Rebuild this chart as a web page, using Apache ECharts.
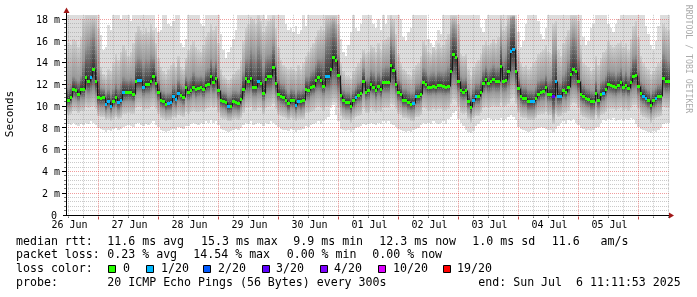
<!DOCTYPE html>
<html><head><meta charset="utf-8">
<script src="https://cdn.jsdelivr.net/npm/echarts@6/dist/echarts.min.js"></script>
<style>html,body{margin:0;padding:0;background:#fff}#c{width:697px;height:297px}</style>
</head><body><div id="c"></div>
<script>
// ---- data: hourly steps, 26 Jun .. 06 Jul 2025 ----
const median = [10.6,10.8,11.6,11.45,11.15,11.6,11.6,12.7,12.3,12.7,
 13.45,12.3,10.8,10.75,10.8,10.2,10.5,10.05,10.5,10.8,
 10.4,10.6,11.3,11.3,11.35,11.3,11.1,12.3,12.4,12.4,
 11.75,12.0,12.05,12.35,12.8,12.1,11.35,10.6,10.45,10.2,
 10.3,10.35,10.95,10.65,11.25,11.0,10.85,11.75,11.3,11.5,
 11.8,11.55,11.65,11.75,11.55,11.95,12.05,12.75,12.2,12.6,
 11.5,10.6,10.5,10.4,10.0,10.05,10.45,10.4,10.3,10.65,
 11.55,12.6,12.3,12.6,11.8,11.75,12.3,12.15,11.25,12.5,
 12.75,12.8,13.6,12.1,11.15,10.95,10.85,10.6,10.25,10.6,
 10.55,10.15,10.5,10.45,10.55,11.55,11.5,11.75,11.9,12.4,
 12.65,12.4,11.85,12.8,12.75,13.45,14.5,14.25,12.9,11.05,
 10.55,10.35,10.35,10.0,10.55,10.85,11.05,11.2,12.3,11.35,
 11.5,12.05,11.8,11.5,11.85,11.55,12.2,12.2,12.2,13.8,
 13.35,12.05,11.35,11.1,10.6,10.6,10.4,10.2,10.3,10.9,
 10.9,11.15,12.2,12.05,11.75,11.8,11.85,11.75,11.95,11.95,
 11.85,11.8,11.85,13.2,14.8,14.5,12.3,11.5,11.35,11.45,
 10.45,9.9,10.6,10.95,10.9,11.35,12.1,12.5,12.1,12.3,
 12.5,12.3,12.3,13.65,12.3,12.4,13.25,15.1,15.3,13.25,
 11.65,10.95,10.75,10.75,10.45,10.45,10.45,10.75,11.15,11.35,
 11.4,11.75,11.15,11.15,10.95,12.3,10.95,10.95,11.45,11.35,
 11.75,12.95,13.4,13.2,12.3,11.15,10.95,10.75,10.65,10.45,
 10.45,11.25,10.55,11.1,11.25,11.6,12.05,11.95,11.9,11.75,
 11.95,12.2,11.75,11.95,11.65,12.25,12.8,12.9,11.9,11.2,
 10.95,10.75,10.55,10.1,10.55,10.75,10.95,10.95,12.6,12.3,
 12.3];
// average lost pings (of 20) per step
const lossPings = [0,0,0,0,0,0,0,0,0,0.2,
 0,0,0,0,0,0.3,0.2,0.3,0,0,
 0.2,0.2,0.1,0,0,0,0,0,0.3,0.2,
 0.2,0,0,0,0,0,0,0,0,0,
 0.2,0.3,0.2,0.2,0.1,0,0,0,0,0,
 0,0,0,0,0,0,0,0,0,0,
 0,0,0,0,0.3,0,0,0,0,0,
 0,0,0,0,0,0,0.2,0,0,0,
 0,0,0,0,0,0,0,0,0,0,
 0,0.2,0.2,0,0,0,0,0,0,0,
 0,0,0,0.3,0.2,0,0,0,0,0,
 0,0,0,0,0,0.2,0,0,0,0,
 0,0,0,0,0,0,0,0,0,0,
 0,0,0,0,0,0,0,0,0.3,0.2,
 0,0,0,0,0,0,0,0,0,0,
 0,0,0,0,0,0,0,0,0,0,
 0,0,0.2,0.2,0,0,0,0,0,0,
 0,0,0,0,0,0,0,0.3,0.3,0,
 0,0,0,0,0,0.2,0.2,0,0,0,
 0,0,0,0,2.9,0.3,0.2,0.2,0,0,
 0,0,0,0,0,0,0,0,0,0,
 0,0,0,0,0.2,0,0,0,0,0,
 0,0,0,0,0,0,0,0,0,0,
 0.2,0.2,0,0,0,0.2,0,0,0,0,
 0];
// smoke: spread of the 20 pings per step (ms)
const pMin = [8.4,8.3,8.5,8.3,8.2,8.4,8.3,8.5,8.4,8.6,
 8.5,8.3,8.0,7.9,7.8,7.6,7.8,7.7,7.9,8.0,
 7.8,7.9,8.1,8.2,8.3,8.2,8.1,8.4,8.5,8.3,
 8.2,8.4,8.3,8.5,8.6,8.3,8.1,7.8,7.7,7.6,
 7.7,7.8,7.9,7.8,8.1,8.0,7.9,8.2,8.2,8.4,
 8.5,8.4,8.3,8.5,8.4,8.6,8.5,8.7,8.5,8.6,
 8.3,7.9,7.8,7.7,7.6,7.7,7.8,7.9,7.8,8.0,
 8.3,8.5,8.4,8.6,8.3,8.4,8.5,8.4,8.2,8.5,
 8.4,8.6,8.5,8.3,8.1,7.9,7.8,7.8,7.7,7.9,
 7.8,7.6,7.8,7.8,7.9,8.2,8.1,8.3,8.4,8.5,
 8.6,8.4,8.6,8.8,9.0,9.8,10.1,9.2,8.6,7.9,
 7.8,7.7,7.8,7.6,7.8,8.0,8.1,8.2,8.4,8.3,
 8.4,8.5,8.4,8.3,8.5,8.4,8.6,8.5,8.6,8.4,
 8.3,8.1,7.9,7.8,7.7,7.6,7.7,7.6,7.8,7.9,
 8.0,8.3,8.5,8.4,8.5,8.4,8.6,8.5,8.4,8.5,
 8.6,8.4,8.8,9.0,9.4,9.6,8.8,8.5,8.2,7.8,
 7.6,7.5,7.7,8.2,8.4,8.6,8.8,8.7,8.9,8.8,
 8.6,8.8,8.7,8.9,8.6,8.8,9.0,9.2,9.0,8.7,
 8.1,7.9,7.8,7.7,7.6,7.7,7.8,7.9,8.0,8.1,
 8.0,7.9,7.8,7.8,7.6,7.9,8.2,8.5,8.6,8.4,
 8.7,8.6,8.8,8.5,8.3,8.0,7.9,7.7,7.8,7.7,
 7.8,8.0,8.1,8.5,8.7,8.6,8.8,8.7,8.9,8.6,
 8.7,8.8,8.6,8.8,8.7,8.9,8.8,8.4,8.1,7.9,
 7.8,7.7,7.6,7.5,7.7,7.6,7.8,8.0,8.4,8.5,
 8.5];
const p10 = [9.2,9.3,9.6,9.6,9.4,9.6,9.6,9.9,9.8,9.9,
 10.0,9.7,9.1,9.0,9.0,8.7,8.8,8.6,8.8,9.0,
 8.8,8.9,9.3,9.3,9.4,9.3,9.3,9.8,9.9,9.9,
 9.6,9.7,9.7,9.9,10.0,9.7,9.3,8.9,8.8,8.6,
 8.7,8.7,9.0,8.9,9.2,9.1,9.0,9.5,9.3,9.5,
 9.6,9.5,9.5,9.6,9.5,9.7,9.8,10.0,9.8,9.9,
 9.4,8.9,8.8,8.8,8.6,8.6,8.8,8.8,8.7,8.9,
 9.4,9.8,9.8,9.9,9.6,9.6,9.8,9.8,9.3,9.8,
 9.9,10.0,10.2,9.7,9.2,9.1,9.0,8.9,8.7,8.9,
 8.8,8.6,8.8,8.8,8.8,9.4,9.4,9.5,9.6,9.8,
 9.9,9.8,9.6,9.9,9.9,10.1,10.4,10.3,9.8,9.1,
 8.8,8.7,8.7,8.5,8.8,9.0,9.1,9.2,9.7,9.4,
 9.4,9.7,9.6,9.4,9.6,9.5,9.8,9.8,9.8,10.2,
 10.1,9.7,9.3,9.2,8.9,8.9,8.8,8.6,8.6,9.0,
 9.0,9.2,9.8,9.7,9.6,9.6,9.7,9.6,9.7,9.7,
 9.6,9.6,9.7,10.2,10.6,10.5,9.9,9.4,9.3,9.4,
 8.8,8.5,8.9,9.1,9.1,9.4,9.8,9.9,9.8,9.9,
 10.0,9.9,9.9,10.3,9.9,10.0,10.2,10.7,10.8,10.2,
 9.4,9.0,8.9,8.9,8.7,8.7,8.7,8.9,9.2,9.3,
 9.3,9.5,9.2,9.2,8.4,9.3,9.0,9.1,9.4,9.4,
 9.6,10.1,10.3,10.2,9.8,9.2,9.0,8.9,8.8,8.7,
 8.7,9.2,8.8,9.2,9.3,9.5,9.7,9.7,9.7,9.6,
 9.7,9.8,9.6,9.7,9.6,9.8,10.1,10.1,9.7,9.2,
 9.0,8.9,8.8,8.5,8.8,8.9,9.0,9.1,9.9,9.8,
 9.8];
const p25 = [9.9,10.1,10.7,10.6,10.4,10.7,10.6,11.2,11.0,11.2,
 11.4,10.9,10.0,9.9,9.9,9.5,9.7,9.4,9.7,9.9,
 9.6,9.8,10.3,10.4,10.4,10.4,10.3,11.0,11.2,11.2,
 10.8,11.0,11.0,11.2,11.4,11.0,10.4,9.8,9.7,9.5,
 9.6,9.6,10.0,9.8,10.3,10.2,10.0,10.8,10.5,10.7,
 10.9,10.7,10.8,10.9,10.7,11.0,11.1,11.4,11.1,11.3,
 10.6,9.8,9.7,9.6,9.3,9.3,9.6,9.6,9.5,9.8,
 10.5,11.0,11.0,11.2,10.8,10.8,11.0,11.0,10.4,11.0,
 11.2,11.3,11.6,10.9,10.3,10.1,10.0,9.8,9.5,9.8,
 9.7,9.4,9.7,9.6,9.7,10.6,10.5,10.8,10.9,11.2,
 11.3,11.2,10.9,11.3,11.3,11.5,11.8,11.7,11.2,10.2,
 9.7,9.6,9.6,9.3,9.7,10.0,10.2,10.3,11.0,10.5,
 10.6,11.0,10.9,10.6,10.9,10.7,11.1,11.1,11.1,11.6,
 11.5,11.0,10.4,10.2,9.8,9.8,9.6,9.5,9.5,10.0,
 10.1,10.3,11.1,11.0,10.9,10.9,11.0,10.9,11.0,11.0,
 10.9,10.9,11.0,11.6,12.0,11.9,11.2,10.6,10.5,10.6,
 9.7,9.2,9.8,10.1,10.1,10.5,11.1,11.3,11.1,11.2,
 11.3,11.2,11.2,11.7,11.2,11.3,11.6,12.2,12.4,11.6,
 10.6,10.1,9.9,9.9,9.6,9.6,9.6,9.9,10.3,10.5,
 10.5,10.8,10.3,10.3,9.4,10.2,10.0,10.1,10.6,10.5,
 10.8,11.4,11.6,11.5,11.1,10.3,10.1,9.9,9.8,9.6,
 9.6,10.3,9.7,10.2,10.4,10.7,11.0,11.0,10.9,10.8,
 11.0,11.1,10.8,11.0,10.8,11.2,11.4,11.5,10.9,10.3,
 10.1,9.9,9.7,9.3,9.7,9.9,10.1,10.1,11.2,11.1,
 11.1];
const p75 = [11.8,12.0,12.8,12.6,12.4,12.9,14.2,15.4,15.8,16.4,
 16.8,15.6,13.4,11.8,11.7,11.3,11.6,11.2,11.7,12.1,
 11.8,12.2,12.8,12.6,12.5,12.7,12.6,14.2,14.6,14.4,
 14.0,14.4,14.2,14.8,14.6,13.4,12.4,11.6,11.4,11.2,
 11.3,11.4,12.0,11.8,12.5,12.0,11.9,12.8,12.6,12.8,
 13.2,12.9,12.8,12.9,12.8,13.4,13.6,14.4,13.8,14.2,
 12.8,11.6,11.4,11.3,11.0,11.1,11.5,11.5,11.4,11.9,
 13.2,14.4,14.6,15.4,15.0,14.6,15.6,15.0,13.8,14.6,
 14.8,15.0,15.8,14.2,12.6,12.1,12.0,11.7,11.3,11.7,
 11.6,11.2,11.6,11.5,11.7,12.8,12.8,13.2,13.4,14.0,
 14.4,14.4,14.6,16.4,16.8,17.2,17.6,17.0,14.8,12.2,
 11.6,11.4,11.4,11.1,11.6,11.9,12.2,12.4,13.6,12.6,
 12.8,13.4,13.2,12.8,13.2,12.9,13.6,13.8,13.8,16.2,
 15.6,13.6,12.6,12.2,11.7,11.7,11.5,11.3,11.4,12.0,
 12.1,12.4,13.6,13.4,13.0,13.1,13.2,13.0,13.3,13.2,
 13.2,13.4,13.8,16.6,17.4,17.0,14.4,12.8,12.6,12.7,
 11.6,11.0,11.8,12.1,12.1,12.6,13.4,13.8,13.4,13.6,
 13.9,13.6,13.7,16.0,14.4,14.8,16.4,18.0,18.2,15.8,
 12.8,12.1,11.9,11.9,11.6,11.6,11.6,11.9,12.4,12.6,
 12.6,13.0,12.5,12.6,15.0,15.2,12.4,12.2,13.0,13.4,
 14.2,16.0,16.6,16.2,14.6,12.6,12.0,11.8,11.7,11.5,
 11.5,12.4,11.7,12.3,12.5,12.9,13.4,13.2,13.2,13.0,
 13.2,13.6,13.0,13.3,12.9,13.6,14.6,14.8,13.4,12.3,
 12.0,11.8,11.6,11.2,11.6,11.8,12.0,12.1,15.0,14.6,
 14.2];
const p90 = [15.8,15.6,16.2,16.0,15.4,16.4,18.0,18.4,19,19,
 19,18.6,17.2,13.6,13.0,12.8,13.4,13.2,14.0,14.8,
 14.2,15.0,15.6,15.2,14.6,15.0,15.8,16.8,17.4,17.0,
 16.6,17.2,16.8,17.6,17.0,15.8,14.4,13.6,13.2,13.0,
 13.4,13.8,14.0,13.6,14.6,13.6,13.4,14.4,15.2,15.6,
 16.0,15.4,15.2,15.0,15.6,16.4,16.8,17.6,17.0,17.4,
 15.8,13.4,12.8,12.6,12.4,12.6,13.0,13.2,13.4,14.2,
 16.0,17.2,17.6,18.2,18.0,17.6,18.4,17.8,16.8,17.4,
 17.8,18.0,18.4,17.2,15.4,14.2,13.8,13.6,13.4,13.6,
 13.4,13.2,13.8,13.4,14.0,14.6,15.0,15.4,15.8,16.4,
 17.0,17.4,17.0,19,19,19,19,19,17.6,14.0,
 13.2,12.8,12.8,12.6,13.2,13.6,14.0,14.4,15.2,14.8,
 15.0,15.6,15.4,15.0,15.8,15.2,16.0,16.2,16.4,18.4,
 18.0,16.6,14.8,14.0,13.4,13.2,13.0,12.8,13.4,13.8,
 14.0,14.6,16.0,15.6,15.0,14.8,15.4,15.2,15.8,15.4,
 15.6,16.2,16.6,19,19,19,17.6,14.8,14.6,14.8,
 13.4,12.8,13.6,14.0,14.2,14.8,15.6,16.0,15.6,15.8,
 16.2,15.8,16.4,18.6,17.0,17.4,19,19,19,18.0,
 15.2,14.0,13.6,13.8,13.4,13.6,14.0,14.2,14.8,15.0,
 15.2,15.6,15.0,14.8,17.6,17.8,15.2,14.6,15.8,16.4,
 17.0,19,19,19,17.8,15.6,14.0,13.8,13.6,13.2,
 13.4,14.6,13.8,14.4,15.0,15.2,16.0,15.6,15.4,15.6,
 15.8,16.0,15.4,15.8,15.2,16.2,17.4,17.8,16.4,14.6,
 14.0,13.6,13.4,13.0,13.2,13.6,14.0,14.2,17.6,17.2,
 17.0];
const pMax = [19,19,19,19,19,19,19,19,19,19,
 19,19,19,16.5,15.2,15.4,17.5,17.0,19,19,
 19,18.0,19,19,19,17.8,19,19,19,19,
 19,19,19,19,19,17.2,16.8,17.0,19,19,
 17.6,17.4,17.8,19,19,15.8,15.4,16.2,19,19,
 19,19,19,17.6,17.4,19,19,19,19,19,
 19,16.6,15.2,14.4,15.0,15.4,16.2,17.0,19,19,
 19,19,19,19,19,19,19,19,19,18.0,
 19,19,19,19,19,19,19,17.6,17.0,17.2,
 16.8,17.4,16.6,17.0,19,17.4,19,19,19,19,
 19,19,19,19,19,19,19,19,19,16.2,
 15.0,14.6,15.6,16.8,19,17.2,16.9,17.6,19,19,
 19,19,17.6,17.2,18.0,17.0,19,17.6,19,19,
 19,19,19,18.0,16.4,16.0,16.8,17.2,19,19,
 19,19,19,19,16.2,15.8,15.4,16.0,17.0,16.6,
 19,19,19,19,19,19,19,19,19,19,
 19,19,19,19,19,17.2,16.8,18.0,19,19,
 19,19,19,19,19,19,19,19,19,19,
 16.8,15.4,16.0,17.6,19,19,19,19,17.8,16.6,
 16.2,17.2,19,19,19,19,19,19,19,19,
 19,19,19,19,19,19,16.4,15.6,16.0,17.2,
 17.6,19,19,19,19,19,17.6,17.2,16.8,17.6,
 18.0,19,19,19,19,19,19,19,19,19,
 19,17.4,16.6,15.6,15.2,16.0,17.4,19,19,19,
 19];
const xTickLabels = ['26 Jun','27 Jun','28 Jun','29 Jun','30 Jun','01 Jul','02 Jul','03 Jul','04 Jul','05 Jul'];
const xTickSteps  = [1,25,49,73,97,121,145,169,193,217];
const yTickValues = [0,2,4,6,8,10,12,14,16,18];
const yTickLabels = ['0','2 m','4 m','6 m','8 m','10 m','12 m','14 m','16 m','18 m'];
const lossLimits = [0,1,2,3,4,10,19];
const lossLabels = ['0','1/20','2/20','3/20','4/20','10/20','19/20'];
const lossColors = ['#26ff00','#00b8ff','#0059ff','#5e00ff','#7e00ff','#dd00ff','#ff0000'];
const rttStats  = ['11.6 ms avg','15.3 ms max','9.9 ms min','12.3 ms now','1.0 ms sd','11.6   am/s'];
const lossStats = ['0.23 % avg','14.54 % max','0.00 % min','0.00 % now'];
const probeText = '20 ICMP Echo Pings (56 Bytes) every 300s';
const endText = 'end: Sun Jul  6 11:11:53 2025';

// ---- layout ----
const X_MAX = 240.8, Y_MAX = 18.4;
const MONO = '"DejaVu Sans Mono", monospace';
const MINOR = 'rgba(150,150,150,0.5)';
const MAJOR = 'rgba(225,35,35,0.45)';
const ARROW = '#a01818';

function lossIndex(l) {
  if (!(l > 0)) return 0;
  for (let k = 1; k < lossLimits.length; k++) if (l <= lossLimits[k]) return k;
  return lossLimits.length - 1;
}

const rows = median.map((m, i) => [i, m, lossPings[i], pMin[i], p10[i], p25[i], p75[i], p90[i], pMax[i]]);

function grad(stops) {
  return { type: 'linear', x: 0, y: 0, x2: 0, y2: 1, global: false,
    colorStops: stops.map(s => ({ offset: s[0], color: s[1] })) };
}

function renderSmoke(params, api) {
  const i = api.value(0);
  const xa = Math.round(api.coord([i, 0])[0]);
  const xb = Math.round(api.coord([i + 1, 0])[0]);
  const w = xb - xa;
  const Y = v => Math.round(api.coord([i, Math.min(v, Y_MAX)])[1]);
  const yMax = Y(api.value(8)), y90 = Y(api.value(7)), y75 = Y(api.value(6));
  const y25 = Y(api.value(5)), y10 = Y(api.value(4)), yMin = Y(api.value(3));
  const yMed = api.coord([i, api.value(1)])[1];
  const ch = [];
  ch.push({ type: 'rect', shape: { x: xa, y: yMax, width: w, height: yMin - yMax }, style: { fill: '#dddddd' } });
  if (y75 > y90) ch.push({ type: 'rect', shape: { x: xa, y: y90, width: w, height: y75 - y90 },
    style: { fill: grad([[0, '#d0d0d0'], [1, '#9a9a9a']]) } });
  if (y10 > y25) ch.push({ type: 'rect', shape: { x: xa, y: y25, width: w, height: y10 - y25 },
    style: { fill: grad([[0, '#9a9a9a'], [1, '#d0d0d0']]) } });
  if (y25 > y75) {
    let f = (yMed - y75) / (y25 - y75); f = Math.max(0.05, Math.min(0.95, f));
    ch.push({ type: 'rect', shape: { x: xa, y: y75, width: w, height: y25 - y75 },
      style: { fill: grad([[0, '#9a9a9a'], [f, '#333333'], [1, '#9a9a9a']]) } });
  }
  return { type: 'group', children: ch };
}

function renderMedian(params, api) {
  const i = api.value(0);
  const xa = Math.round(api.coord([i, 0])[0]);
  const xb = Math.round(api.coord([i + 1, 0])[0]);
  const y = Math.round(api.coord([i, api.value(1)])[1]);
  const prev = i > 0 ? median[i - 1] : api.value(1);
  const yp = Math.round(api.coord([i, prev])[1]);
  const col = lossColors[lossIndex(api.value(2))];
  return { type: 'group', children: [
    { type: 'line', shape: { x1: xa + 0.5, y1: yp + 0.5, x2: xa + 0.5, y2: y + 0.5 }, style: { stroke: '#1a1a1a', lineWidth: 1 } },
    { type: 'rect', shape: { x: xa, y: y - 1, width: xb - xa, height: 3 }, style: { fill: col } }
  ]};
}

function renderFrame(params, api) {
  const X = v => api.coord([v, 0])[0];
  const Y = v => api.coord([0, v])[1];
  const crisp = p => Math.floor(p) + 0.5;
  const x0 = X(0), x1 = X(X_MAX), y0 = Y(0), y1 = Y(Y_MAX);
  const ch = [];
  for (let k = 1; k < 46; k++) {
    const major = k % 5 === 0;
    const y = crisp(Y(k * 0.4));
    ch.push({ type: 'line', shape: { x1: x0 + 1, y1: y, x2: x1, y2: y },
      style: { stroke: major ? MAJOR : MINOR, lineWidth: 1, lineDash: [1, 1] } });
    ch.push({ type: 'line', shape: { x1: major ? 62 : 64, y1: y, x2: 66, y2: y },
      style: { stroke: major ? '#000' : '#777', lineWidth: 1 } });
  }
  for (let k = 0; 0.4 + 6 * k < X_MAX; k++) {
    const major = k % 4 === 2;
    const x = crisp(X(0.4 + 6 * k));
    ch.push({ type: 'line', shape: { x1: x, y1: y1, x2: x, y2: y0 },
      style: { stroke: major ? MAJOR : MINOR, lineWidth: 1, lineDash: [1, 1] } });
    ch.push({ type: 'line', shape: { x1: x, y1: crisp(y0) + 1, x2: x, y2: crisp(y0) + (major ? 4 : 2.5) },
      style: { stroke: major ? '#c05050' : '#777', lineWidth: 1 } });
  }
  ch.push({ type: 'line', shape: { x1: 66.5, y1: crisp(y0), x2: 66.5, y2: 12 }, style: { stroke: '#000', lineWidth: 1 } });
  ch.push({ type: 'line', shape: { x1: 63, y1: crisp(y0), x2: x1, y2: crisp(y0) }, style: { stroke: '#000', lineWidth: 1 } });
  ch.push({ type: 'polygon', shape: { points: [[66.5, 7.5], [63.5, 13], [69.5, 13]] }, style: { fill: ARROW } });
  ch.push({ type: 'polygon', shape: { points: [[674, crisp(y0)], [669, crisp(y0) - 3], [669, crisp(y0) + 3]] }, style: { fill: ARROW } });
  yTickValues.forEach((v, j) => {
    ch.push({ type: 'text', style: { text: yTickLabels[j], x: v === 0 ? 57 : 60, y: Y(v) + 1,
      align: 'right', verticalAlign: 'middle', font: '10px ' + MONO, fill: '#000' } });
  });
  xTickSteps.forEach((s, j) => {
    ch.push({ type: 'text', style: { text: xTickLabels[j], x: X(s), y: 225.5,
      align: 'center', verticalAlign: 'middle', font: '10px ' + MONO, fill: '#000' } });
  });
  return { type: 'group', children: ch };
}

const LF = '11.6px ' + MONO;
function T(x, y, s) {
  return { type: 'text', x: x, y: y, silent: true,
    style: { text: s, font: LF, fill: '#000', align: 'left', verticalAlign: 'middle' } };
}
const g = [];
const row1 = 241.5, row2 = 255.2, row3 = 268.9, row4 = 282.6;
g.push(T(16, row1, 'median rtt:'));
[107.3, 201, 293.3, 379.3, 472.3, 551.7].forEach((x, j) => g.push(T(x, row1, rttStats[j])));
g.push(T(16, row2, 'packet loss:'));
[107.3, 193.3, 286.7, 372.3].forEach((x, j) => g.push(T(x, row2, lossStats[j])));
g.push(T(16, row3, 'loss color:'));
const boxX = [108, 146, 203, 262, 320, 378, 443];
const labX = [123, 161, 218, 276, 334, 393, 457];
lossLabels.forEach((s, j) => {
  g.push({ type: 'rect', silent: true, shape: { x: boxX[j] + 0.5, y: 265.5, width: 7, height: 7 },
    style: { fill: lossColors[j], stroke: '#000', lineWidth: 1 } });
  g.push(T(labX[j], row3, s));
});
g.push(T(16, row4, 'probe:'));
g.push(T(107.3, row4, probeText));
g.push(T(478.3, row4, endText));
g.push({ type: 'text', x: 10.5, y: 114, rotation: Math.PI / 2, silent: true,
  style: { text: 'Seconds', font: '11px ' + MONO, fill: '#000', align: 'center', verticalAlign: 'middle' } });
g.push({ type: 'text', x: 688.5, y: 59, rotation: -Math.PI / 2, silent: true,
  style: { text: 'RRDTOOL / TOBI OETIKER', font: '8.2px ' + MONO, fill: '#ababab', align: 'center', verticalAlign: 'middle' } });

const chart = echarts.init(document.getElementById('c'), null, { renderer: 'canvas', width: 697, height: 297 });
chart.setOption({
  animation: false,
  backgroundColor: '#ffffff',
  grid: { left: 67, right: 28, top: 14.8, bottom: 82 },
  xAxis: { type: 'value', min: 0, max: X_MAX, show: false },
  yAxis: { type: 'value', min: 0, max: Y_MAX, show: false },
  series: [
    { type: 'custom', name: 'smoke', z: 2, data: rows, renderItem: renderSmoke, encode: { x: 0, y: 1 } },
    { type: 'custom', name: 'frame', z: 3, data: [[0, 0]], renderItem: renderFrame, clip: false },
    { type: 'custom', name: 'median', z: 4, data: rows, renderItem: renderMedian, encode: { x: 0, y: 1 } }
  ],
  graphic: g
});
</script>
</body></html>
